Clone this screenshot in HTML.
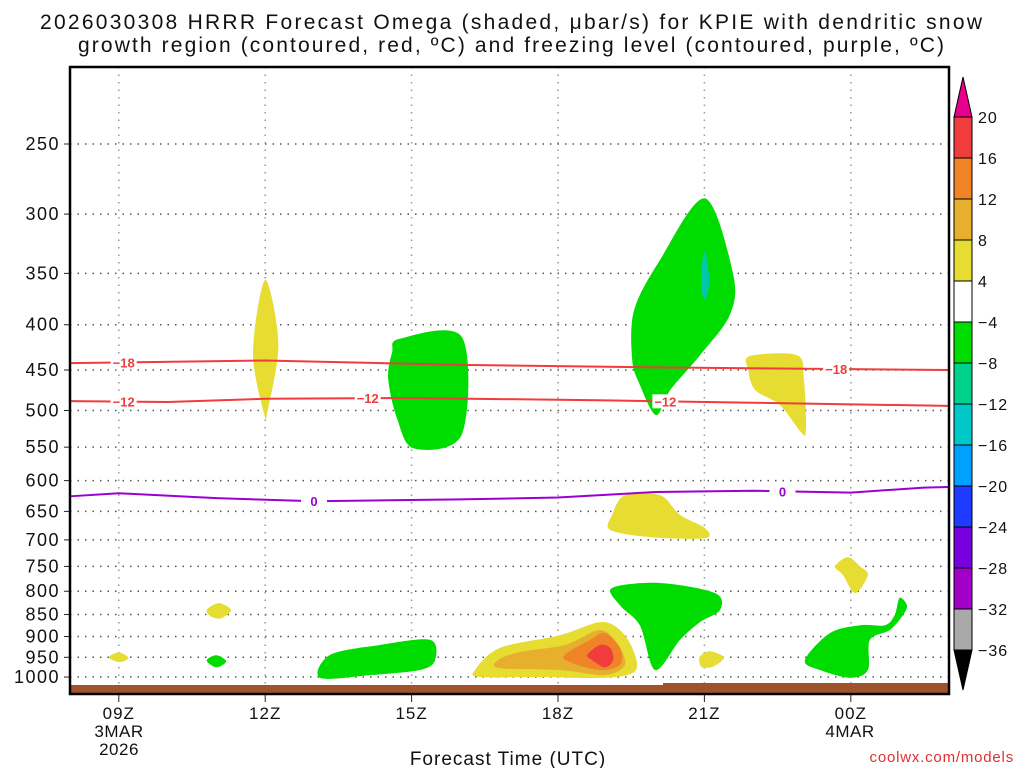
<!DOCTYPE html>
<html><head><meta charset="utf-8"><style>
body{margin:0;background:#fff;width:1024px;height:768px;overflow:hidden;font-family:"Liberation Sans",sans-serif}
svg{display:block}
text{font-family:"Liberation Sans",sans-serif;fill:#111}
</style></head><body>
<svg id="chart" width="1024" height="768">
<text x="40" y="29" font-size="21" textLength="942" lengthAdjust="spacing">2026030308 HRRR Forecast Omega (shaded, μbar/s) for KPIE with dendritic snow</text>
<text x="78" y="52" font-size="21" textLength="866" lengthAdjust="spacing">growth region (contoured, red, ºC) and freezing level (contoured, purple, ºC)</text>
<g id="grid"></g><g id="fills"></g><g id="lines"></g><g id="axes"></g><g id="cbar"></g>
<text x="508" y="765" text-anchor="middle" font-size="19" letter-spacing="1">Forecast Time (UTC)</text>
<text x="1014" y="762" text-anchor="end" font-size="15" letter-spacing="0.8" style="fill:#e03030">coolwx.com/models</text>
</svg>
<script>
const pTicks=[250,300,350,400,450,500,550,600,650,700,750,800,850,900,950,1000];
const xTickHours=[9,12,15,18,21,24];
const xTickLabels=["09Z","12Z","15Z","18Z","21Z","00Z"];
const cbarLabels=["20","16","12","8","4","−4","−8","−12","−16","−20","−24","−28","−32","−36"];
const cbarColors=["#f03c3c","#f08228","#e6af2d","#e6dc32","#ffffff","#00dc00","#00d28c","#00c8c8","#00a0ff","#1e3cff","#7800dc","#a000c8","#a9a9a9"];
const line18=[[8,442],[12,439],[16,444],[20,447],[24,449],[26,450]];
const line12=[[8,488],[10,489],[12,485],[15,484],[19,487],[22,490],[26,494]];
const line0=[[8,625],[9,620],[11,628],[13,633],[16,630],[18,627],[20,618],[22,616],[24,619],[25.5,611],[26,610]];
const fills=[
 ["yellow-12z","#e6dc32",[[12,356],[12.27,420],[12.05,500],[11.98,505],[11.75,430]]],
 ["green-15z","#00dc00",[[14.75,415],[16.03,413],[16.03,532],[15.05,552],[14.7,510],[14.52,460],[14.6,430]]],
 ["green-21z-upper","#00dc00",[[21.01,288],[21.59,351],[21.52,390],[20.91,433],[20.3,474],[20.01,506],[19.68,468],[19.52,438],[19.56,385],[20.09,338]]],
 ["teal-21z","#00c8b0",[[21.0,330],[21.1,357],[21.0,375],[20.93,357]]],
 ["yellow-23z","#e6dc32",[[21.93,434],[22.9,433],[23.04,462],[23.08,526],[22.98,529],[22.55,493],[22.04,474],[21.9,450]]],
 ["yellow-20z-mid","#e6dc32",[[19.37,623],[20.09,623],[20.5,656],[21.01,679],[21.01,697],[19.89,695],[19.07,682],[19.11,656]]],
 ["yellow-00z","#e6dc32",[[23.94,732],[24.19,750],[24.35,767],[24.09,804],[23.84,767],[23.68,750]]],
 ["yellow-11z","#e6dc32",[[10.8,840],[11.05,825],[11.3,840],[11.1,858],[10.9,855]]],
 ["yellow-09z","#e6dc32",[[8.8,950],[9.0,938],[9.2,952],[9.0,962]]],
 ["green-11z","#00dc00",[[10.8,958],[11.0,945],[11.2,960],[11.0,975]]],
 ["green-15z-low","#00dc00",[[13.12,1002],[13.33,944],[14.35,920],[15.38,908],[15.48,957],[15.17,982],[14.15,995]]],
 ["green-20z-low","#00dc00",[[19.11,793],[20.09,783],[21.22,804],[21.32,840],[20.91,867],[20.5,908],[19.99,982],[19.68,875],[19.27,830]]],
 ["yellow-21z-low","#e6dc32",[[20.9,950],[21.1,935],[21.4,950],[21.2,972],[20.95,975]]],
 ["green-00z-low","#00dc00",[[23.06,957],[23.57,892],[24.19,874],[24.7,874],[24.9,851],[25.0,814],[25.15,830],[25.07,851],[24.8,885],[24.39,908],[24.35,982],[23.98,1002],[23.37,982]]],
 ["yellow-18z","#e6dc32",[[16.3,982],[16.81,927],[18.04,897],[18.86,867],[19.27,885],[19.54,932],[19.58,985],[18.96,1002],[17.63,1000],[16.4,1000]]],
 ["gold-18z","#e6af2d",[[16.77,957],[17.22,937],[18.14,920],[18.86,885],[19.23,920],[19.37,969],[18.96,995],[18.04,982],[16.8,977]]],
 ["orange-18z","#f08228",[[18.14,944],[18.66,908],[18.96,892],[19.27,927],[19.27,969],[18.86,982],[18.24,962]]],
 ["red-19z","#f03c3c",[[18.6,944],[18.86,920],[19.07,927],[19.13,957],[18.96,975],[18.7,957]]]
];
const X0=70,X1=949,Y0=67,Y1=694;
const xs=h=>70+(h-8)*48.8;
const ys=p=>144+384.5*Math.log(p/250);
const NS="http://www.w3.org/2000/svg";
function mk(tag,attrs,parent){const e=document.createElementNS(NS,tag);for(const k in attrs)e.setAttribute(k,attrs[k]);parent.appendChild(e);return e;}
function smoothPath(P){const n=P.length,t=0.35;let d='M'+P[0][0]+','+P[0][1];
 for(let i=0;i<n;i++){const p0=P[(i-1+n)%n],p1=P[i],p2=P[(i+1)%n],p3=P[(i+2)%n];
  const c1=[p1[0]+(p2[0]-p0[0])*t/2*0.9,p1[1]+(p2[1]-p0[1])*t/2*0.9],c2=[p2[0]-(p3[0]-p1[0])*t/2*0.9,p2[1]-(p3[1]-p1[1])*t/2*0.9];
  d+=' C'+c1[0]+','+c1[1]+' '+c2[0]+','+c2[1]+' '+p2[0]+','+p2[1];}
 return d+'Z';}
const grid=document.getElementById('grid'),fg=document.getElementById('fills'),lg=document.getElementById('lines'),ax=document.getElementById('axes'),cb=document.getElementById('cbar');
pTicks.forEach(p=>{const y=ys(p);
 const l=mk('line',{x1:X0,x2:X1,y1:y,y2:y,stroke:'#555','stroke-width':1.5,'stroke-dasharray':'1.5 6'},grid);
 
 
 const t=mk('text',{x:60,y:y+6,'text-anchor':'end','font-size':18,'letter-spacing':1.5},ax);t.textContent=p;
 
 
 mk('line',{x1:X0-6,x2:X0,y1:y,y2:y,stroke:'#222'},ax);
});
xTickHours.forEach((h,i)=>{const x=xs(h);
 const l=mk('line',{x1:x,x2:x,y1:Y0,y2:Y1,stroke:'#999','stroke-width':1.5,'stroke-dasharray':'1.5 6'},grid);
 
 
 mk('line',{x1:x,x2:x,y1:Y1,y2:Y1+8,stroke:'#222'},ax);
 const t=mk('text',{x:x,y:719,'text-anchor':'middle','font-size':17,'letter-spacing':1},ax);t.textContent=xTickLabels[i];
 
 
});
[["3MAR",119,737],["2026",119,755],["4MAR",850,737]].forEach(a=>{const t=mk('text',{x:a[1],y:a[2],'text-anchor':'middle','font-size':17,'letter-spacing':0.5},ax);t.textContent=a[0];
 
 });
fills.forEach(f=>{const P=f[2].map(q=>[xs(q[0]),ys(q[1])]);
 const e=mk('path',{d:smoothPath(P),fill:f[1]},fg);
 
 
});
function drawLine(data,color,name,labels,lab){
 const pts=data.map(q=>xs(q[0])+','+ys(q[1])).join(' ');
 const e=mk('polyline',{points:pts,fill:'none',stroke:color,'stroke-width':2},lg);
 
 
 labels.forEach(h=>{let p=data[0][1];for(let i=0;i<data.length-1;i++){if(h>=data[i][0]&&h<=data[i+1][0]){const f=(h-data[i][0])/(data[i+1][0]-data[i][0]);p=data[i][1]+f*(data[i+1][1]-data[i][1]);}}
  const x=xs(h),y=ys(p);
  mk('rect',{x:x-13,y:y-7,width:26,height:14,fill:'#fff'},lg);
  const t=mk('text',{x:x,y:y+5,'text-anchor':'middle','font-size':13,'font-weight':'bold',style:'fill:'+color},lg);t.textContent=lab;
  
  
 });
}
drawLine(line18,'#f03c3c','contour-minus18',[9.1,23.7],'−18');
drawLine(line12,'#f03c3c','contour-minus12',[9.1,14.1,20.2],'−12');
drawLine(line0,'#9b00d2','freezing-level-0',[13,22.6],'0');
const g1=mk('rect',{x:X0,y:685,width:X1-X0,height:9,fill:'#a0522d'},ax);


mk('rect',{x:663,y:683,width:X1-663,height:3,fill:'#a0522d'},ax);
const fr=mk('rect',{x:X0,y:Y0,width:X1-X0,height:Y1-Y0,fill:'none',stroke:'#000','stroke-width':2.5},ax);


const CX=954,CW=18,CT=117,CS=41;
const tri=mk('polygon',{points:`${CX},${CT} ${CX+CW},${CT} ${CX+CW/2},77`,fill:'#e6008c',stroke:'#000'},cb);


cbarColors.forEach((c,i)=>{const r=mk('rect',{x:CX,y:CT+i*CS,width:CW,height:CS,fill:c,stroke:'#000'},cb);
 
 });
const bot=CT+cbarColors.length*CS;
const tri2=mk('polygon',{points:`${CX},${bot} ${CX+CW},${bot} ${CX+CW/2},${bot+40}`,fill:'#000',stroke:'#000'},cb);


cbarLabels.forEach((s,i)=>{const t=mk('text',{x:978,y:CT+i*CS+6,'font-size':16,'letter-spacing':1},cb);t.textContent=s;
 
 });
</script>
</body></html>
